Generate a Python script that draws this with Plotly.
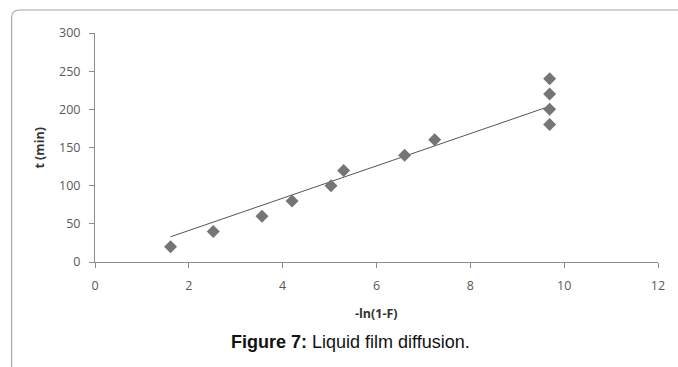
import plotly.graph_objects as go

# Data
x_vals = [1.61, 2.52, 3.56, 4.2, 5.03, 5.3, 6.6, 7.24, 9.69, 9.69, 9.69, 9.69]
t_vals = [20, 40, 60, 80, 100, 120, 140, 160, 180, 200, 220, 240]
trend_x = [1.61, 9.69]
trend_y = [33, 204]
x_ticks = [0, 2, 4, 6, 8, 10, 12]
y_ticks = [0, 50, 100, 150, 200, 250, 300]

W, H = 678, 367
L, R, T, B = 94.5, 20, 33, 105
pw, ph = W - L - R, H - T - B

def px(xp):
    return (xp - L) / pw

def py(yp):
    return (H - B - yp) / ph

fig = go.Figure()
fig.add_trace(go.Scatter(x=trend_x, y=trend_y, mode="lines",
                         line=dict(color="#555555", width=1), showlegend=False))
fig.add_trace(go.Scatter(x=x_vals, y=t_vals, mode="markers",
                         marker=dict(symbol="diamond", size=10, color="#757575",
                                     line=dict(width=0)), showlegend=False))

tickfont = dict(family="Open Sans", size=12.5, color="#595959")
fig.update_xaxes(range=[0, 12], tickvals=x_ticks, showgrid=False, zeroline=False,
                 showline=True, linecolor="#8c8c8c", linewidth=1,
                 ticks="outside", ticklen=5, tickcolor="#8c8c8c", tickfont=tickfont,
                 ticklabelstandoff=7)
fig.update_yaxes(range=[0, 300], tickvals=y_ticks, showgrid=False, zeroline=False,
                 showline=True, linecolor="#8c8c8c", linewidth=1,
                 ticks="outside", ticklen=5, tickcolor="#8c8c8c", tickfont=tickfont,
                 ticklabelstandoff=6)

# frame
x0, x1 = px(11), px(W + 5)
y0, y1 = py(H + 5), py(10)
rx, ry = 8 / pw, 8 / ph
fig.add_shape(type="path", xref="paper", yref="paper",
              path=f"M {x0},{y0} L {x0},{y1 - ry} Q {x0},{y1} {x0 + rx},{y1} L {x1},{y1}",
              line=dict(color="#a6a6a6", width=1.2))

fig.add_annotation(xref="paper", yref="paper", x=px(376), y=py(313),
                   xanchor="center", yanchor="middle",
                   text="<b>-ln(1-F)</b>", showarrow=False,
                   font=dict(family="Open Sans", size=12.5, color="#333333"))
fig.add_annotation(xref="paper", yref="paper", x=px(38), y=py(148),
                   xanchor="center", yanchor="middle",
                   text="<b>t (min)</b>", showarrow=False, textangle=-90,
                   font=dict(family="Open Sans", size=12.5, color="#333333"))
fig.add_annotation(xref="paper", yref="paper", x=px(350), y=py(342),
                   xanchor="center", yanchor="middle",
                   text="<b>Figure 7:</b> Liquid film diffusion.", showarrow=False,
                   font=dict(family="Liberation Sans", size=18, color="#111111"))

fig.update_layout(width=W, height=H, margin=dict(l=L, r=R, t=T, b=B),
                  paper_bgcolor="white", plot_bgcolor="white")
fig.write_html("out.html")
